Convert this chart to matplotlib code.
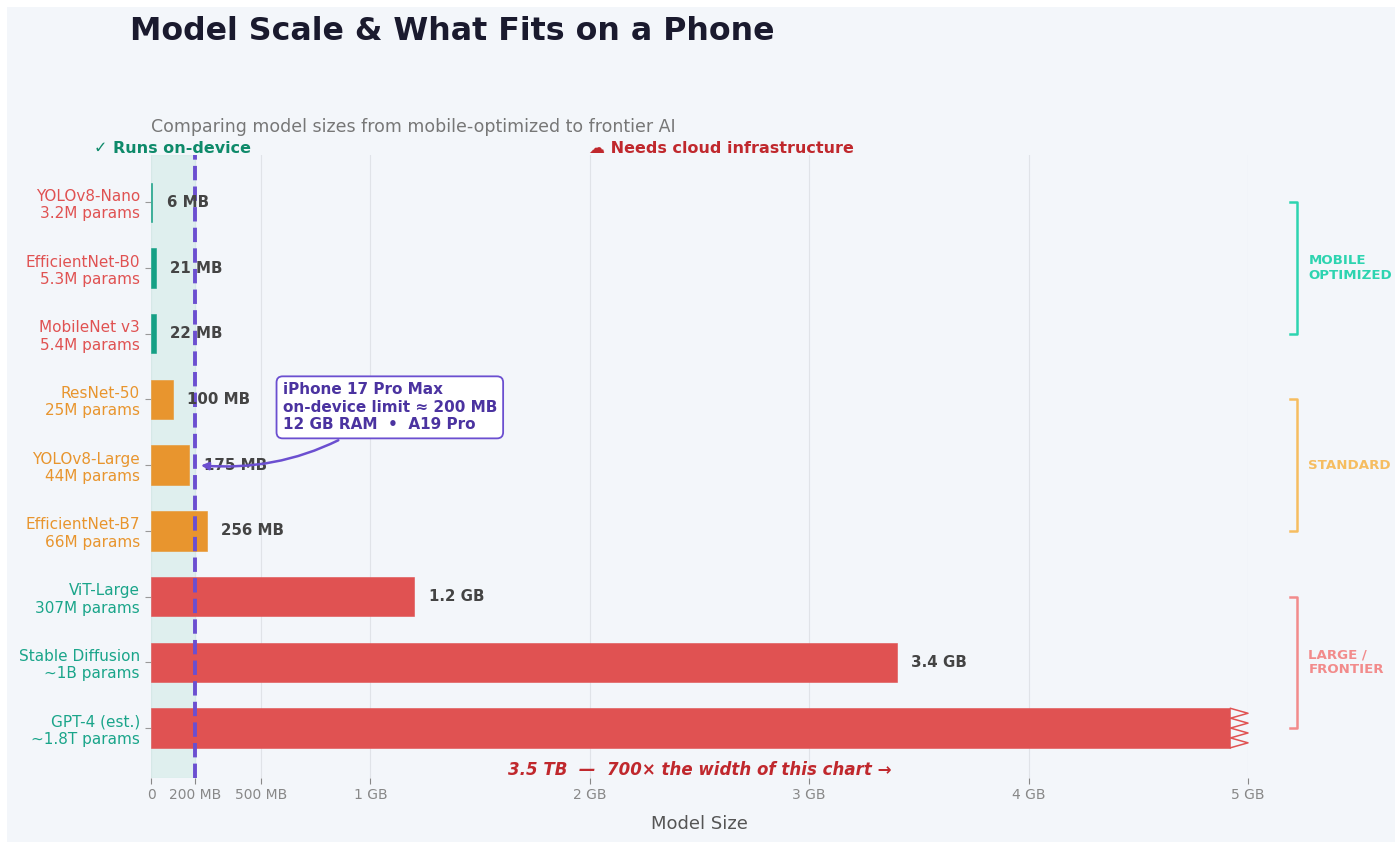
import numpy as np
import matplotlib
matplotlib.use("Agg")
import matplotlib.pyplot as plt
from matplotlib.patches import Rectangle

# data
models = ["YOLOv8-Nano", "EfficientNet-B0", "MobileNet v3", "ResNet-50", "YOLOv8-Large",
          "EfficientNet-B7", "ViT-Large", "Stable Diffusion", "GPT-4 (est.)"]
params = ["3.2M params", "5.3M params", "5.4M params", "25M params", "44M params",
          "66M params", "307M params", "~1B params", "~1.8T params"]
sizes_mb = [6, 21, 22, 100, 175, 256, 1200, 3400, 3.5e6]
size_labels = ["6 MB", "21 MB", "22 MB", "100 MB", "175 MB", "256 MB", "1.2 GB", "3.4 GB", ""]
tiers = ["mobile", "mobile", "mobile", "standard", "standard", "standard", "large", "large", "large"]
tier_names = {"mobile": "MOBILE\nOPTIMIZED", "standard": "STANDARD", "large": "LARGE /\nFRONTIER"}

xticks = [0, 200, 500, 1000, 2000, 3000, 4000, 5000]
xtick_labels = ["0", "200 MB", "500 MB", "1 GB", "2 GB", "3 GB", "4 GB", "5 GB"]
phone_limit = 200
x_max = 5000
bar_cap = 4920  # where the GPT-4 bar gets cut off

BG = "#f3f6fa"
bar_colors = {"mobile": "#16a085", "standard": "#e8952e", "large": "#e05252"}
# label colours came out swapped in the original
label_colors = {"mobile": "#e05252", "standard": "#e8952e", "large": "#1aa58a"}
bracket_colors = {"mobile": "#2dd4b0", "standard": "#f6bd60", "large": "#f28b8b"}
PURPLE = "#6b4fd0"

fig = plt.figure(figsize=(13.95, 8.42), dpi=100, facecolor="white")
fig.patches.append(Rectangle((7 / 1395, 0), 1, 1 - 7 / 842, transform=fig.transFigure,
                             facecolor=BG, edgecolor="none", zorder=-10))
ax = fig.add_axes([151 / 1395, 1 - 778 / 842, (1248 - 151) / 1395, (778 - 155) / 842])
ax.set_facecolor(BG)

y = np.arange(len(models))
shown = [min(v, bar_cap) for v in sizes_mb]
cols = [bar_colors[t] for t in tiers]
ax.barh(y, shown, height=0.6, color=cols, edgecolor=cols, lw=0.4, zorder=3)

ax.axvspan(0, phone_limit, color="#d3ebe7", alpha=0.6, zorder=1)
ax.axvline(phone_limit, color=PURPLE, lw=2.8, ls="--", zorder=4)

for yi, v, lab in zip(y, sizes_mb, size_labels):
    if lab:
        ax.text(v + 65, yi, lab, ha="left", va="center", fontsize=10.8, fontweight="bold",
                color="#444444", zorder=5)

# broken end of the GPT-4 bar
zz_y = np.linspace(8 - 0.3, 8 + 0.3, 9)
zz_x = [bar_cap if i % 2 == 0 else x_max for i in range(len(zz_y))]
ax.plot(zz_x, zz_y, color="#e05252", lw=1.1, zorder=4, clip_on=False)

ax.set_xlim(0, x_max)
ax.set_ylim(8.76, -0.72)
ax.set_xticks(xticks)
ax.set_xticklabels(xtick_labels)
ax.set_yticks(y)
ax.set_yticklabels([f"{m}\n{p}" for m, p in zip(models, params)])
for tl, t in zip(ax.get_yticklabels(), tiers):
    tl.set_color(label_colors[t])
    tl.set_fontsize(11)
ax.tick_params(axis="x", colors="#888888", labelsize=10, length=4)
ax.tick_params(axis="y", color="#999999", length=4, pad=4)
for tl in ax.get_xticklabels():
    tl.set_color("#888888")
for s in ax.spines.values():
    s.set_visible(False)
ax.grid(axis="x", color="#e0e3e8", lw=0.8, zorder=0)
ax.set_axisbelow(True)
ax.set_xlabel("Model Size", fontsize=13, color="#555555", labelpad=9)

# tier brackets on the right
for tier in ["mobile", "standard", "large"]:
    idx = [i for i, t in enumerate(tiers) if t == tier]
    y0, y1 = idx[0], idx[-1]
    c = bracket_colors[tier]
    ax.plot([5190, 5225, 5225, 5190], [y0, y0, y1, y1], color=c, lw=1.8, clip_on=False)
    ax.text(5275, (y0 + y1) / 2, tier_names[tier], ha="left", va="center", fontsize=9.6,
            fontweight="bold", color=c)

# annotation for the phone limit
ax.annotate("iPhone 17 Pro Max\non-device limit \u2248 200 MB\n12 GB RAM  \u2022  A19 Pro",
            xy=(215, 4), xytext=(600, 3.12), ha="left", va="center", fontsize=11,
            fontweight="bold", color="#4b33a0", zorder=6,
            bbox=dict(boxstyle="round,pad=0.4", fc="white", ec=PURPLE, lw=1.3),
            arrowprops=dict(arrowstyle="-|>", color=PURPLE, lw=1.8,
                            connectionstyle="arc3,rad=-0.2"))

ax.text(2500, 8.645, "3.5 TB  \u2014  700\u00d7 the width of this chart \u2192", ha="center",
        va="center", fontsize=12, fontweight="bold", fontstyle="italic", color="#c0282d", zorder=6)

ax.text(phone_limit / 2, 1.01, "\u2713 Runs on-device", transform=ax.get_xaxis_transform(),
        ha="center", va="center", fontsize=11.5, fontweight="bold", color="#0e8a6a")
ax.text(2600, 1.01, "\u2601 Needs cloud infrastructure", transform=ax.get_xaxis_transform(),
        ha="center", va="center", fontsize=11.5, fontweight="bold", color="#c0282d")

fig.text(130 / 1395, 1 - 32 / 842, "Model Scale & What Fits on a Phone", ha="left", va="center",
         fontsize=22.8, fontweight="bold", color="#1a1a2e")
fig.text(151 / 1395, 1 - 127 / 842, "Comparing model sizes from mobile-optimized to frontier AI",
         ha="left", va="center", fontsize=12.5, color="#777777")

fig.savefig("out.png", dpi=100, facecolor=fig.get_facecolor())
